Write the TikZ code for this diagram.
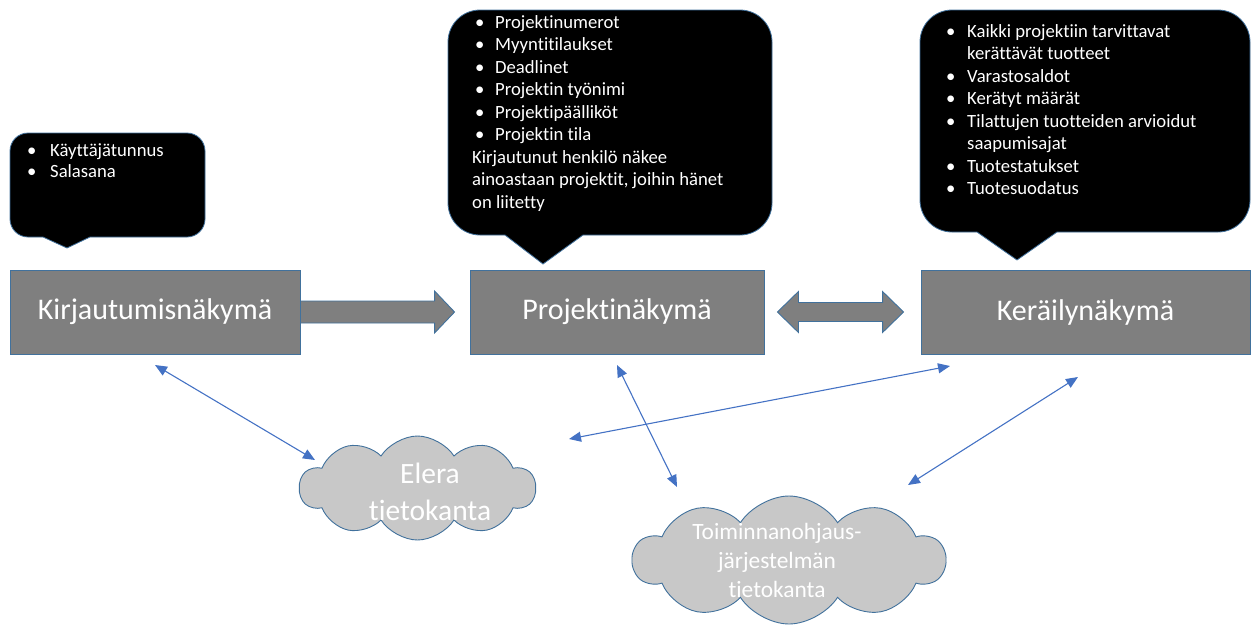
\documentclass[tikz,border=0pt]{standalone}
\usepackage{fontspec}
\setmainfont{Carlito}[Ligatures=NoCommon]
\usetikzlibrary{shapes.symbols,arrows.meta,calc}

\definecolor{boxgray}{HTML}{7F7F7F}
\definecolor{edgeblue}{HTML}{41719C}
\definecolor{linkblue}{HTML}{4472C4}
\definecolor{cloudgray}{HTML}{C8C8C8}

% rounded speech bubble: x1 y1 x2 y2 radius tail-left tail-right tip-x tip-y
\newcommand\bubblepath[9]{%
  (#6,#4) -- ({#1+#5},#4) .. controls ({#1+0.4477*#5},#4) and (#1,{#4-0.4477*#5}) .. (#1,{#4-#5})
  -- (#1,{#2+#5}) .. controls (#1,{#2+0.4477*#5}) and ({#1+0.4477*#5},#2) .. ({#1+#5},#2)
  -- ({#3-#5},#2) .. controls ({#3-0.4477*#5},#2) and (#3,{#2+0.4477*#5}) .. (#3,{#2+#5})
  -- (#3,{#4-#5}) .. controls (#3,{#4-0.4477*#5}) and ({#3-0.4477*#5},#4) .. ({#3-#5},#4)
  -- (#7,#4) -- (#8,#9) -- cycle}

\newcommand\bul[1]{\makebox[#1][l]{•}}

\tikzset{
  bubble/.style={fill=black, draw=edgeblue, line width=0.8pt},
  bubbletext/.style={anchor=base west, inner sep=0pt, text=white},
  viewbox/.style={rectangle, fill=boxgray, draw=edgeblue, line width=0.9pt,
    text=white, font=\fontsize{30}{36}\selectfont, inner sep=0pt},
  blockarrow/.style={fill=boxgray, draw=edgeblue, line width=0.9pt, line join=miter},
  db/.style={cloud, cloud puffs=10, cloud puff arc=115, cloud ignores aspect,
    fill=cloudgray, draw=edgeblue, line width=0.9pt, inner sep=0pt},
  dbtext/.style={text=white, align=center, inner sep=0pt},
  link/.style={draw=linkblue, line width=1.1pt,
    {Triangle[length=12pt,width=10pt]}-{Triangle[length=12pt,width=10pt]}},
}

\begin{document}
\begin{tikzpicture}[x=1pt,y=-1pt]
\useasboundingbox (0,0) rectangle (1256,625);

% speech bubbles
\draw[bubble] \bubblepath{10}{133}{205}{237}{18}{43}{90}{67}{248};
\draw[bubble] \bubblepath{448}{10}{772}{235}{32}{505}{583}{543}{264};
\draw[bubble] \bubblepath{920}{10}{1250}{232}{32}{977}{1057}{1017}{260};

\node[bubbletext] (logininfo) at (27,156) {\parbox[t]{170pt}{\fontsize{18.67}{21}\selectfont
\bul{23pt}Käyttäjätunnus\\
\bul{23pt}Salasana}};

\node[bubbletext] (projinfo) at (472,28) {\parbox[t]{300pt}{\fontsize{18.67}{22.5}\selectfont
\hspace*{3pt}\bul{20pt}Projektinumerot\\
\hspace*{3pt}\bul{20pt}Myyntitilaukset\\
\hspace*{3pt}\bul{20pt}Deadlinet\\
\hspace*{3pt}\bul{20pt}Projektin työnimi\\
\hspace*{3pt}\bul{20pt}Projektipäälliköt\\
\hspace*{3pt}\bul{20pt}Projektin tila\\
Kirjautunut henkilö näkee\\
ainoastaan projektit, joihin hänet\\
on liitetty}};

\node[bubbletext] (pickinfo) at (946,37) {\parbox[t]{300pt}{\fontsize{18.67}{22.5}\selectfont
\bul{21pt}Kaikki projektiin tarvittavat\\
\hspace*{21pt}kerättävät tuotteet\\
\bul{21pt}Varastosaldot\\
\bul{21pt}Kerätyt määrät\\
\bul{21pt}Tilattujen tuotteiden arvioidut\\
\hspace*{21pt}saapumisajat\\
\bul{21pt}Tuotestatukset\\
\bul{21pt}Tuotesuodatus}};

% views
\node[viewbox, minimum width=290, minimum height=84] (kirj) at (155,312) {Kirjautumisnäkymä};
\node[viewbox, minimum width=294, minimum height=84] (proj) at (617,312) {Projektinäkymä};
\node[viewbox, minimum width=329, minimum height=84] (ker) at (1085.5,312) {Keräilynäkymä};

% navigation arrows
\draw[blockarrow] ($(kirj.east)+(0,-11)$) -- ($(proj.west)+(-35,-11)$)
  -- ($(proj.west)+(-35,-21)$) -- ($(proj.west)+(-15,0)$) -- ($(proj.west)+(-35,21)$)
  -- ($(proj.west)+(-35,11)$) -- ($(kirj.east)+(0,11)$) -- cycle;
\draw[blockarrow] ($(proj.east)+(13,0)$) -- ($(proj.east)+(34,-20.5)$) -- ($(proj.east)+(34,-9.5)$)
  -- ($(ker.west)+(-38,-9.5)$) -- ($(ker.west)+(-38,-20.5)$) -- ($(ker.west)+(-17,0)$)
  -- ($(ker.west)+(-38,20.5)$) -- ($(ker.west)+(-38,9.5)$) -- ($(proj.east)+(34,9.5)$)
  -- ($(proj.east)+(34,20.5)$) -- cycle;

% databases
\node[db, minimum width=236, minimum height=104] (elera) at (417.5,488) {};
\node[dbtext, font=\fontsize{29.5}{37}\selectfont] (eleratext) at (430,492) {Elera\\tietokanta};
\node[db, minimum width=312, minimum height=128] (erp) at (789,560) {};
\node[dbtext, font=\fontsize{23.4}{29}\selectfont] (erptext) at (777,560) {Toiminnanohjaus-\\järjestelmän\\tietokanta};

% data links
\coordinate (l1a) at (155,365); \coordinate (l1b) at (315,460);
\coordinate (l2a) at (617,365); \coordinate (l2b) at (677,487);
\coordinate (l3a) at (950,366); \coordinate (l3b) at (569,439);
\coordinate (l4a) at (1078,377); \coordinate (l4b) at (908,485);
\draw[link] (l1a) -- (l1b);
\draw[link] (l2a) -- (l2b);
\draw[link] (l3a) -- (l3b);
\draw[link] (l4a) -- (l4b);
\end{tikzpicture}
\end{document}
